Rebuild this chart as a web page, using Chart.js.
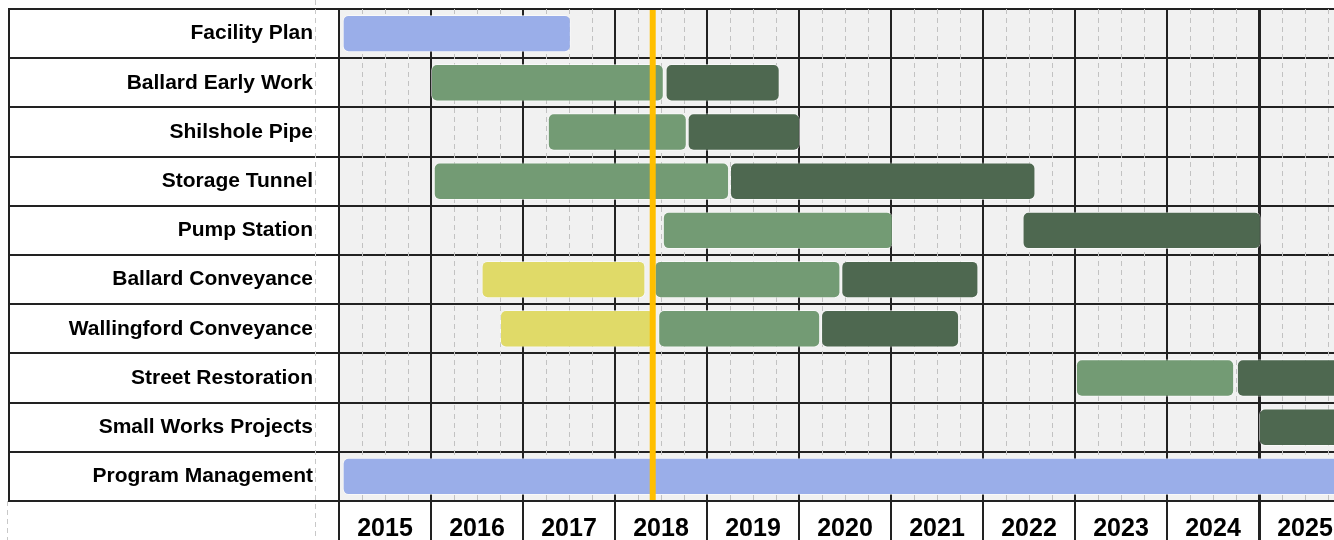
<!DOCTYPE html>
<html>
<head>
<meta charset="utf-8">
<script src="https://cdn.jsdelivr.net/npm/chart.js@4.4.1/dist/chart.umd.min.js"></script>
<style>
  html, body { margin: 0; padding: 0; background: #fff; overflow: hidden; }
  #wrap { width: 1360px; height: 560px; }
</style>
</head>
<body>
<div id="wrap"><canvas id="gantt" width="1360" height="560"></canvas></div>
<script>
// rows of the schedule, top to bottom
const categories = [
  'Facility Plan', 'Ballard Early Work', 'Shilshole Pipe', 'Storage Tunnel', 'Pump Station',
  'Ballard Conveyance', 'Wallingford Conveyance', 'Street Restoration', 'Small Works Projects',
  'Program Management'
];

// [start, end] in fractional years, one entry per row (null = no bar)
const planningBars = [
  [2015.04, 2017.52], null, null, null, null, null, null, null, null, [2015.04, 2026.5]
];
const preDesignBars = [
  null, null, null, null, null, [2016.55, 2018.33], [2016.75, 2018.43], null, null, null
];
const designBars = [
  null, [2016.0, 2018.53], [2017.27, 2018.78], [2016.03, 2019.24], [2018.52, 2021.02],
  [2018.43, 2020.45], [2018.47, 2020.23], [2023.01, 2024.73], null, null
];
const constructionBars = [
  null, [2018.55, 2019.79], [2018.79, 2020.01], [2019.25, 2022.57], [2022.43, 2025.02],
  [2020.46, 2021.95], [2020.24, 2021.74], [2024.76, 2026.5], [2025.0, 2026.5], null
];

const yearMin = 2015;
const yearMax = 2026;
const todayMark = 2018.41;

const dark = '#222222';
const clear = 'rgba(0,0,0,0)';

// grey sheet background behind the plot cells
const sheetBackground = {
  id: 'sheetBackground',
  beforeDraw(chart) {
    const { ctx, chartArea: a } = chart;
    ctx.save();
    ctx.fillStyle = '#f1f1f1';
    ctx.fillRect(a.left, a.top, a.right - a.left, a.bottom - a.top);
    ctx.restore();
  }
};

// outer left edge of the table and the faint page-break dashes
const sheetFrame = {
  id: 'sheetFrame',
  beforeDatasetsDraw(chart) {
    const { ctx, chartArea: a } = chart;
    const left = chart.scales.y.left;
    ctx.save();
    ctx.strokeStyle = '#c8c8c8';
    ctx.lineWidth = 1;
    ctx.setLineDash([5, 4]);
    ctx.beginPath();
    ctx.moveTo(a.left - 23.5, 0);
    ctx.lineTo(a.left - 23.5, chart.height);
    ctx.moveTo(left - 1.5, a.bottom);
    ctx.lineTo(left - 1.5, chart.height);
    ctx.stroke();
    ctx.setLineDash([]);
    ctx.strokeStyle = dark;
    ctx.lineWidth = 2;
    ctx.beginPath();
    ctx.moveTo(left, a.top - 1);
    ctx.lineTo(left, a.bottom + 1);
    ctx.stroke();
    ctx.restore();
  }
};

// orange "today" marker
const todayLine = {
  id: 'todayLine',
  afterDatasetsDraw(chart) {
    const { ctx, chartArea: a } = chart;
    const x = chart.scales.x.getPixelForValue(todayMark);
    ctx.save();
    ctx.fillStyle = '#ffbf00';
    ctx.fillRect(x - 3, a.top + 1, 6, a.bottom - a.top - 2);
    ctx.restore();
  }
};

function barSet(label, data, color) {
  return {
    label: label,
    data: data,
    backgroundColor: color,
    borderColor: 'rgba(255,255,255,0.55)',
    borderWidth: 1,
    borderSkipped: false,
    borderRadius: 6,
    grouped: false,
    barPercentage: 0.76,
    categoryPercentage: 1
  };
}

const isYear = (c) => c.tick && c.tick.value % 1 === 0;

new Chart(document.getElementById('gantt'), {
  type: 'bar',
  data: {
    labels: categories,
    datasets: [
      barSet('Planning', planningBars, '#9aaee9'),
      barSet('Pre-design', preDesignBars, '#e0da68'),
      barSet('Design', designBars, '#739b74'),
      barSet('Construction', constructionBars, '#4e6850')
    ]
  },
  plugins: [sheetBackground, sheetFrame, todayLine],
  options: {
    indexAxis: 'y',
    responsive: false,
    animation: false,
    devicePixelRatio: 1,
    layout: { padding: { left: 9, top: 9, right: 9, bottom: 0 } },
    plugins: {
      legend: { display: false },
      tooltip: { enabled: false }
    },
    scales: {
      y: {
        grid: {
          color: dark, lineWidth: 2, offset: true,
          drawTicks: true, tickLength: 330, tickColor: dark, tickWidth: 2
        },
        border: { color: dark, width: 2 },
        ticks: {
          color: '#000',
          padding: -304,
          font: { family: 'Liberation Sans, Arial, sans-serif', size: 21, weight: 'bold' }
        },
        afterFit: (s) => { s.width = 330; }
      },
      x: {
        type: 'linear',
        position: 'bottom',
        min: yearMin,
        max: yearMax,
        ticks: {
          stepSize: 0.5,
          autoSkip: false,
          maxRotation: 0,
          padding: -46,
          color: '#000',
          font: { family: 'Liberation Sans, Arial, sans-serif', size: 25, weight: 'bold' },
          callback: (v) => (v % 1 === 0.5 ? String(Math.floor(v)) : '')
        },
        grid: {
          color: (c) => (isYear(c) ? dark : clear),
          lineWidth: (c) => (c.tick && c.tick.value === 2025 ? 3 : 2),
          tickLength: 59,
          tickColor: (c) => (isYear(c) ? dark : clear),
          tickWidth: (c) => (c.tick && c.tick.value === 2025 ? 3 : 2)
        },
        border: { color: dark, width: 2 },
        afterFit: (s) => { s.height = 59; }
      },
      xq: {
        type: 'linear',
        position: 'top',
        min: yearMin,
        max: yearMax,
        ticks: { display: false, stepSize: 0.25 },
        grid: {
          color: (c) => (isYear(c) ? clear : '#c2c2c2'),
          lineWidth: 1,
          drawTicks: false
        },
        border: { display: false, dash: [5, 4] },
        afterFit: (s) => { s.height = 0; }
      }
    }
  }
});
</script>
</body>
</html>
